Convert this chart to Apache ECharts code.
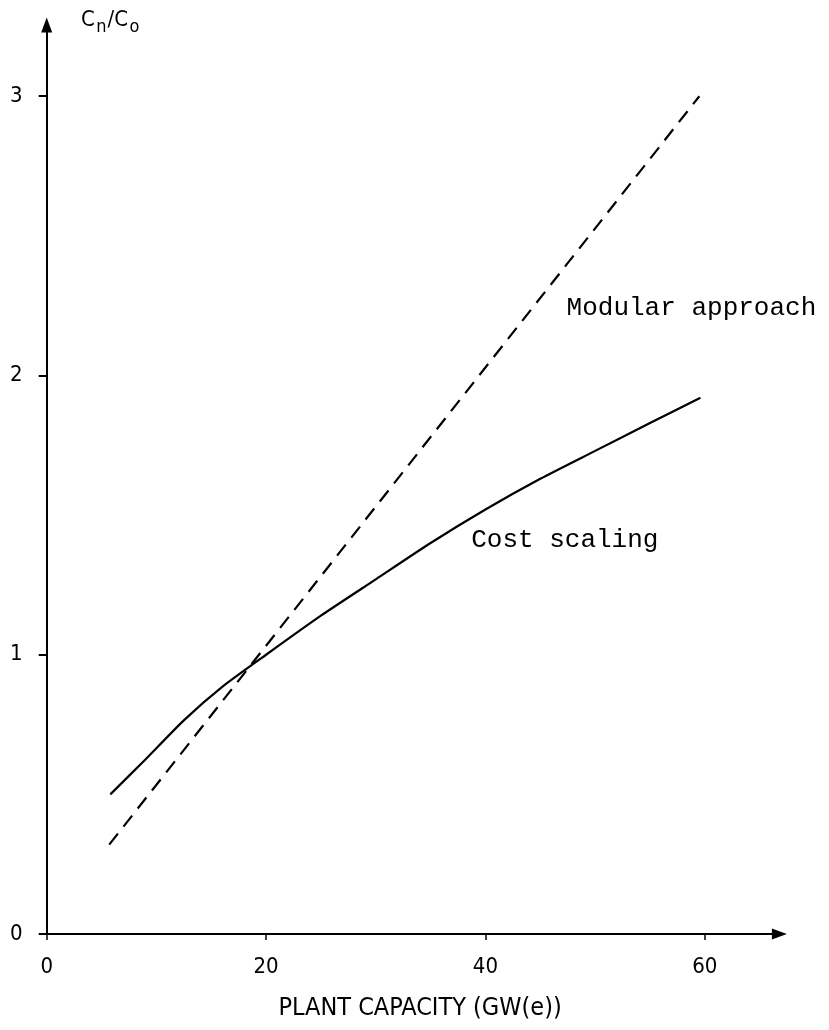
<!DOCTYPE html>
<html>
<head>
<meta charset="utf-8">
<script src="https://cdn.jsdelivr.net/npm/echarts@6/dist/echarts.min.js"></script>
<style>
html,body{margin:0;padding:0;background:#fff;}
#chart{width:829px;height:1030px;}
</style>
</head>
<body>
<div id="chart"></div>
<script>
// ---- data ----
const xTicks = [0, 20, 40, 60];
const yTicks = [0, 1, 2, 3];
const costX = [5.8, 9, 12.5, 16, 20, 25, 30, 35, 40, 45, 50, 55, 59.6];
const costY = [0.50, 0.625, 0.765, 0.885, 1.00, 1.14, 1.27, 1.40, 1.52, 1.63, 1.73, 1.83, 1.92];
const modularX = [5.7, 59.5];
const modularY = [0.32, 3.0];
const xTitle = 'PLANT CAPACITY (GW(e))';
const yTitleParts = [['C', false], ['n', true], ['/C', false], ['o', true]];
const labelModular = {text: 'Modular approach', x: 47.4, y: 2.24};
const labelCost = {text: 'Cost scaling', x: 38.7, y: 1.41};

const axisFont = '"DejaVu Sans Condensed", "Liberation Sans Narrow", "DejaVu Sans", sans-serif';
const monoFont = '"Liberation Mono", "DejaVu Sans Mono", monospace';

const chart = echarts.init(document.getElementById('chart'), null, {renderer: 'canvas'});

const arrowStyle = {symbol: ['none', 'triangle'], symbolSize: [11, 15], symbolOffset: [0, 0]};

const option = {
  backgroundColor: '#ffffff',
  animation: false,
  grid: {left: 46.7, right: 49.6, top: 25, bottom: 96, containLabel: false},
  xAxis: {
    type: 'value',
    min: 0, max: 66.8,
    splitLine: {show: false},
    axisLine: Object.assign({show: true, lineStyle: {color: '#000', width: 2}}, arrowStyle),
    axisTick: {show: true, inside: false, length: 6, lineStyle: {color: '#000', width: 1.5}, customValues: xTicks},
    axisLabel: {show: true, margin: 22, color: '#000', fontSize: 22, fontFamily: axisFont, customValues: xTicks},
    name: xTitle,
    nameLocation: 'middle',
    nameGap: 62,
    nameMoveOverlap: false,
    nameTextStyle: {color: '#000', fontSize: 25, fontFamily: axisFont, padding: [0, 0, 0, 14]}
  },
  yAxis: {
    type: 'value',
    min: 0, max: 3.255,
    splitLine: {show: false},
    axisLine: Object.assign({show: true, lineStyle: {color: '#000', width: 2}}, arrowStyle),
    axisTick: {show: true, inside: false, length: 8, lineStyle: {color: '#000', width: 2}, customValues: yTicks},
    axisLabel: {show: true, margin: 24, color: '#000', fontSize: 22, fontFamily: axisFont, customValues: yTicks}
  },
  series: [
    {
      name: 'Cost scaling',
      type: 'line',
      smooth: 0.2,
      showSymbol: false,
      data: costX.map((x, i) => [x, costY[i]]),
      lineStyle: {color: '#000', width: 2.2, type: 'solid'}
    },
    {
      name: 'Modular approach',
      type: 'line',
      showSymbol: false,
      data: modularX.map((x, i) => [x, modularY[i]]),
      lineStyle: {color: '#000', width: 2.2, type: [14, 9]}
    }
  ]
};
chart.setOption(option);

function textAt(lbl) {
  const p = chart.convertToPixel({gridIndex: 0}, [lbl.x, lbl.y]);
  return {
    type: 'text', x: p[0], y: p[1],
    style: {text: lbl.text, fill: '#000', font: '26px ' + monoFont, textAlign: 'left', textVerticalAlign: 'middle'}
  };
}

// y-axis title with subscripts, laid out piece by piece
const measureCtx = document.createElement('canvas').getContext('2d');
const mainFont = '22px ' + axisFont;
const subFont = '18px ' + axisFont;
let cursor = 81;
const titleEls = [];
yTitleParts.forEach(([t, sub]) => {
  const f = sub ? subFont : mainFont;
  measureCtx.font = f;
  const w = measureCtx.measureText(t).width;
  titleEls.push({
    type: 'text', x: cursor, y: sub ? 27 : 20,
    style: {text: t, fill: '#000', font: f, textAlign: 'left', textVerticalAlign: 'middle'}
  });
  cursor += w + (sub ? 1 : 1.5);
});

chart.setOption({
  graphic: [textAt(labelModular), textAt(labelCost)].concat(titleEls)
});
</script>
</body>
</html>
